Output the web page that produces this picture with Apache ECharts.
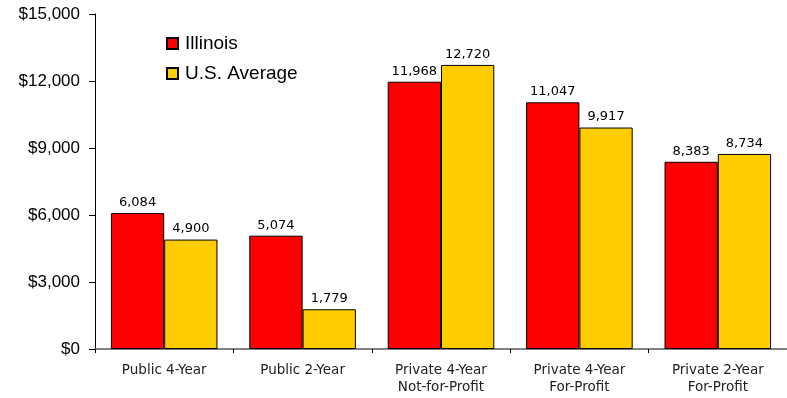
<!DOCTYPE html>
<html>
<head>
<meta charset="utf-8">
<script src="https://cdn.jsdelivr.net/npm/echarts@6/dist/echarts.min.js"></script>
<style>
  html, body { margin: 0; padding: 0; background: #fff; }
  #chart { width: 787px; height: 398px; }
</style>
</head>
<body>
<div id="chart"></div>
<script>
// data
var categories = ['Public 4-Year', 'Public 2-Year', 'Private 4-Year\nNot-for-Profit', 'Private 4-Year\nFor-Profit', 'Private 2-Year\nFor-Profit'];
var illinois = [6084, 5074, 11968, 11047, 8383];
var usAverage = [4900, 1779, 12720, 9917, 8734];
var seriesNames = ['Illinois', 'U.S. Average'];

var chart = echarts.init(document.getElementById('chart'));

function fmt(v) {
  return v.toLocaleString('en-US');
}

var labelStyle = {
  show: true,
  position: 'top',
  distance: 4,
  color: '#000',
  fontFamily: 'DejaVu Sans',
  fontSize: 13,
  formatter: function (p) { return fmt(p.value); }
};

var option = {
  animation: false,
  backgroundColor: '#fff',
  grid: {
    left: 95,
    top: 14,
    width: 696,
    height: 335
  },
  legend: {
    orient: 'vertical',
    left: 161,
    top: 29,
    itemGap: 11,
    itemWidth: 11,
    itemHeight: 11,
    icon: 'rect',
    textStyle: {
      fontFamily: 'Liberation Sans',
      fontSize: 19,
      color: '#000',
      padding: [0, 0, 0, 2]
    },
    data: seriesNames
  },
  xAxis: {
    type: 'category',
    data: categories,
    axisLine: { lineStyle: { color: '#808080', width: 2 } },
    axisTick: { show: true, length: 4, lineStyle: { color: '#000' } },
    axisLabel: {
      color: '#222',
      fontFamily: 'DejaVu Sans',
      fontSize: 13.5,
      lineHeight: 17,
      margin: 13
    }
  },
  yAxis: {
    type: 'value',
    min: 0,
    max: 15000,
    interval: 3000,
    axisLine: { show: true, lineStyle: { color: '#000' } },
    axisTick: { show: true, length: 6, lineStyle: { color: '#000' } },
    splitLine: { show: false },
    axisLabel: {
      color: '#000',
      fontFamily: 'Liberation Sans',
      fontSize: 17,
      margin: 15,
      formatter: function (v) { return '$' + fmt(v); }
    }
  },
  series: [
    {
      name: seriesNames[0],
      type: 'bar',
      data: illinois,
      barGap: '0%',
      barCategoryGap: '23%',
      itemStyle: { color: '#FF0000', borderColor: '#000', borderWidth: 1 },
      label: labelStyle
    },
    {
      name: seriesNames[1],
      type: 'bar',
      data: usAverage,
      barGap: '0%',
      barCategoryGap: '23%',
      itemStyle: { color: '#FFCC00', borderColor: '#000', borderWidth: 1 },
      label: labelStyle
    }
  ]
};

chart.setOption(option);
</script>
</body>
</html>
